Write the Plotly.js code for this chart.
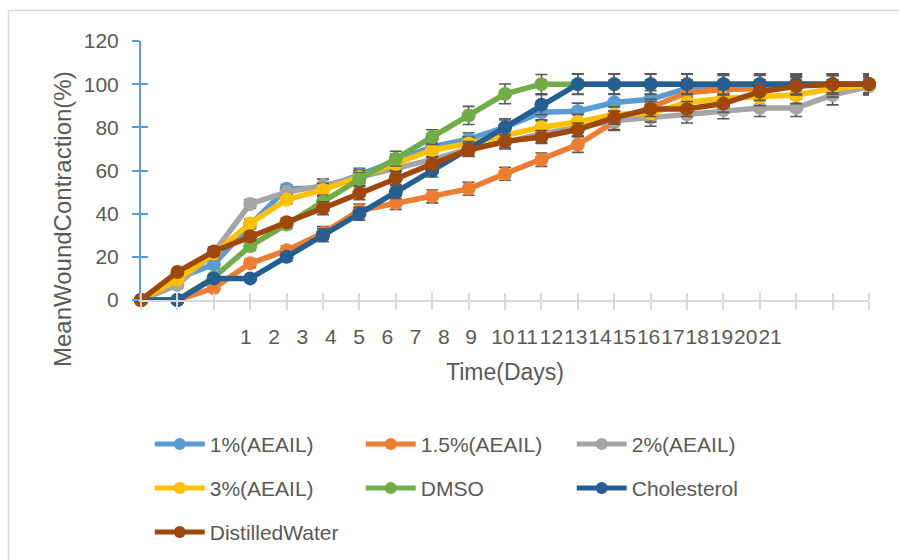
<!DOCTYPE html>
<html>
<head>
<meta charset="utf-8">
<script src="https://cdn.plot.ly/plotly-3.0.1.min.js"></script>
<style>
  html, body { margin: 0; padding: 0; background: #ffffff; }
  #chart { width: 899px; height: 560px; }
</style>
</head>
<body>
<div id="chart"></div>
<script>
// ---------- DATA ----------
const timePoints = [0,1,2,3,4,5,6,7,8,9,10,11,12,13,14,15,16,17,18,19,20];
const dayLabels = ['1','2','3','4','5','6','7','8','9','10','11','12','13','14','15','16','17','18','19','20','21'];

const seriesNames = ['1%(AEAIL)','1.5%(AEAIL)','2%(AEAIL)','3%(AEAIL)','DMSO','Cholesterol','DistilledWater'];

const aeail1   = [0, 10, 16.5, 35, 51.5, 52, 58, 64.5, 71, 74.5, 80, 87, 87.5, 91.5, 93, 98, 100, 100, 100, 100, 100];
const aeail15  = [0, 0, 5.5, 17, 23, 31, 41.5, 45, 48, 51.5, 58.5, 65, 72, 82.5, 89, 96, 97.5, 98, 99.5, 100, 100];
const aeail2   = [0, 7, 22, 44.5, 50, 53, 57, 61, 65, 70, 73, 77, 80, 83, 84.5, 86, 88, 89, 89, 95, 99];
const aeail3   = [0, 9.5, 21.5, 35.5, 46.5, 51, 57, 63, 69.5, 72.5, 76.5, 80, 82.5, 86, 86.5, 91.5, 93.5, 94, 95, 98, 99.5];
const dmso     = [0, 0, 10.5, 25, 35, 45.5, 56, 65.5, 75.5, 85.5, 95.5, 100, 100, 100, 100, 100, 100, 100, 100, 100, 100];
const chol     = [0, 0, 10, 10, 20, 30, 40, 50, 60, 70, 80, 90.5, 100, 100, 100, 100, 100, 100, 100, 100, 100];
const water    = [0, 13, 22.5, 29.5, 36, 42.5, 49.5, 56.5, 63, 69.5, 73.5, 75.5, 79, 84.5, 88.5, 88.5, 91, 96.5, 99, 100, 100];

const err1  = [0, 1, 2, 2, 2, 2, 3, 3, 3, 3, 4, 4, 3.7, 4, 4, 4, 4, 4, 4, 4, 4];
const err15 = [0, 0, 1, 2, 2, 3, 3, 3, 3, 3, 3, 3.1, 3.6, 4, 4, 4, 4, 4, 4, 4, 4];
const err2  = [0, 1, 2, 2, 2, 3, 3, 3, 3, 3, 3, 4, 4, 4, 4, 4, 4, 4, 4, 4.6, 4];
const err3  = [0, 1, 2, 2, 2, 3, 3, 3, 3, 3, 3, 3.5, 3.5, 3.5, 4, 4, 4, 4, 4, 4, 4];
const errD  = [0, 0, 1, 2, 2, 3, 3, 3.4, 3.4, 4.2, 4.6, 4.5, 4.6, 4.6, 4.6, 4.6, 4.6, 4.6, 4.6, 4.6, 4.6];
const errC  = [0, 0, 1, 1, 2, 3, 3, 3, 3, 3.4, 3.4, 4.6, 4.8, 4.8, 4.8, 4.8, 4.8, 4.8, 4.8, 4.8, 4.8];
const errW  = [0, 1, 2, 2, 2, 3, 3, 3, 3, 3, 3.1, 3, 3, 3, 3.5, 3.5, 4, 4, 4, 4, 4];

// ---------- STYLE ----------
const colors = ['#5B9BD5','#ED7D31','#A5A5A5','#FFC000','#70AD47','#255E91','#9E480E'];
const values = [aeail1, aeail15, aeail2, aeail3, dmso, chol, water];
const errors = [err1, err15, err2, err3, errD, errC, errW];
const legendIds = ['legend','legend','legend','legend2','legend2','legend2','legend3'];
// the last (top-most) series sits on the overlaid axes that carry the day labels and inner ticks
const xAxisIds = ['x','x','x','x','x','x','x2'];
const yAxisIds = ['y','y','y','y','y','y','y2'];

const FONT = 'Liberation Sans, Arial, sans-serif';
const TXT = '#595959';

const traces = values.map((v, i) => ({
  type: 'scatter',
  mode: 'lines+markers',
  name: seriesNames[i],
  x: timePoints,
  y: v,
  xaxis: xAxisIds[i],
  yaxis: yAxisIds[i],
  legend: legendIds[i],
  cliponaxis: false,
  line: { color: colors[i], width: 5.5 },
  marker: { color: colors[i], size: 14, line: { width: 0 } },
  error_y: { type: 'data', array: errors[i], visible: true, color: '#595959', thickness: 1.6, width: 6 },
  hoverinfo: 'x+y+name'
}));

// tick label positions (the day labels sit at these spots along the axis in the source chart)
const labelPositions = [2.882, 3.657, 4.434, 5.212, 5.989, 6.766, 7.544, 8.321, 9.071,
  9.940, 10.607, 11.275, 11.942, 12.610, 13.277, 13.945, 14.613, 15.280, 15.948, 16.615, 17.283];

const legendCommon = {
  orientation: 'h', xanchor: 'left', yanchor: 'middle',
  font: { family: FONT, size: 21, color: TXT },
  bgcolor: 'rgba(0,0,0,0)', borderwidth: 0,
  itemwidth: 50, entrywidth: 146, entrywidthmode: 'pixels', itemsizing: 'constant',
  itemclick: false, itemdoubleclick: false, traceorder: 'normal'
};

const layout = {
  width: 899, height: 560, autosize: false,
  margin: { l: 141, r: 30, t: 41, b: 260, pad: 0, autoexpand: false },
  paper_bgcolor: '#ffffff', plot_bgcolor: '#ffffff',
  font: { family: FONT, size: 21, color: TXT },
  showlegend: true,
  xaxis: {
    range: [0, 20], fixedrange: true, automargin: false,
    tickmode: 'array', tickvals: timePoints, ticktext: timePoints.map(() => ''),
    ticks: 'outside', ticklen: 8, tickwidth: 2, tickcolor: '#D9D9D9',
    showline: true, linecolor: '#D9D9D9', linewidth: 2,
    showgrid: false, zeroline: false,
    title: { text: 'Time(Days)', font: { family: FONT, size: 23, color: TXT }, standoff: 51 }
  },
  xaxis2: {
    overlaying: 'x', anchor: 'y2', side: 'bottom', range: [0, 20], fixedrange: true, automargin: false,
    tickmode: 'array', tickvals: labelPositions, ticktext: dayLabels, tickangle: 0,
    ticks: '', ticklabelstandoff: 22,
    tickfont: { family: FONT, size: 21, color: TXT },
    minor: { tickmode: 'linear', tick0: 0, dtick: 1, ticks: 'inside', ticklen: 7, tickwidth: 2, tickcolor: '#D9D9D9', showgrid: false },
    showline: false, showgrid: false, zeroline: false
  },
  yaxis: {
    range: [0, 120], fixedrange: true, automargin: false,
    tickmode: 'linear', tick0: 0, dtick: 20,
    ticks: 'outside', ticklen: 7, tickwidth: 2, tickcolor: '#5B9BD5',
    ticklabelstandoff: 9,
    tickfont: { family: FONT, size: 21, color: TXT },
    showline: true, linecolor: '#5B9BD5', linewidth: 2,
    showgrid: false, zeroline: false
  },
  yaxis2: {
    overlaying: 'y', anchor: 'x2', side: 'left', range: [0, 120], fixedrange: true, automargin: false,
    tickmode: 'linear', tick0: 0, dtick: 20, showticklabels: false,
    ticks: 'inside', ticklen: 7, tickwidth: 2, tickcolor: '#5B9BD5',
    showline: false, showgrid: false, zeroline: false
  },
  legend:  Object.assign({}, legendCommon, { x: 0.012, y: -0.557 }),
  legend2: Object.assign({}, legendCommon, { x: 0.012, y: -0.727 }),
  legend3: Object.assign({}, legendCommon, { x: 0.012, y: -0.897 }),
  annotations: [{
    text: 'MeanWoundContraction(%)', textangle: -90,
    xref: 'paper', yref: 'paper', x: -0.107, y: 0.313,
    xanchor: 'center', yanchor: 'middle', showarrow: false,
    font: { family: FONT, size: 24, color: TXT }
  }],
  shapes: [{
    type: 'rect', xref: 'paper', yref: 'paper',
    x0: -0.182, x1: 1.2, y0: -1.1, y1: 1.118,
    line: { color: '#D9D9D9', width: 1.5 }, fillcolor: 'rgba(0,0,0,0)', layer: 'below'
  }]
};

Plotly.newPlot('chart', traces, layout, { displayModeBar: false, staticPlot: true });
</script>
</body>
</html>
